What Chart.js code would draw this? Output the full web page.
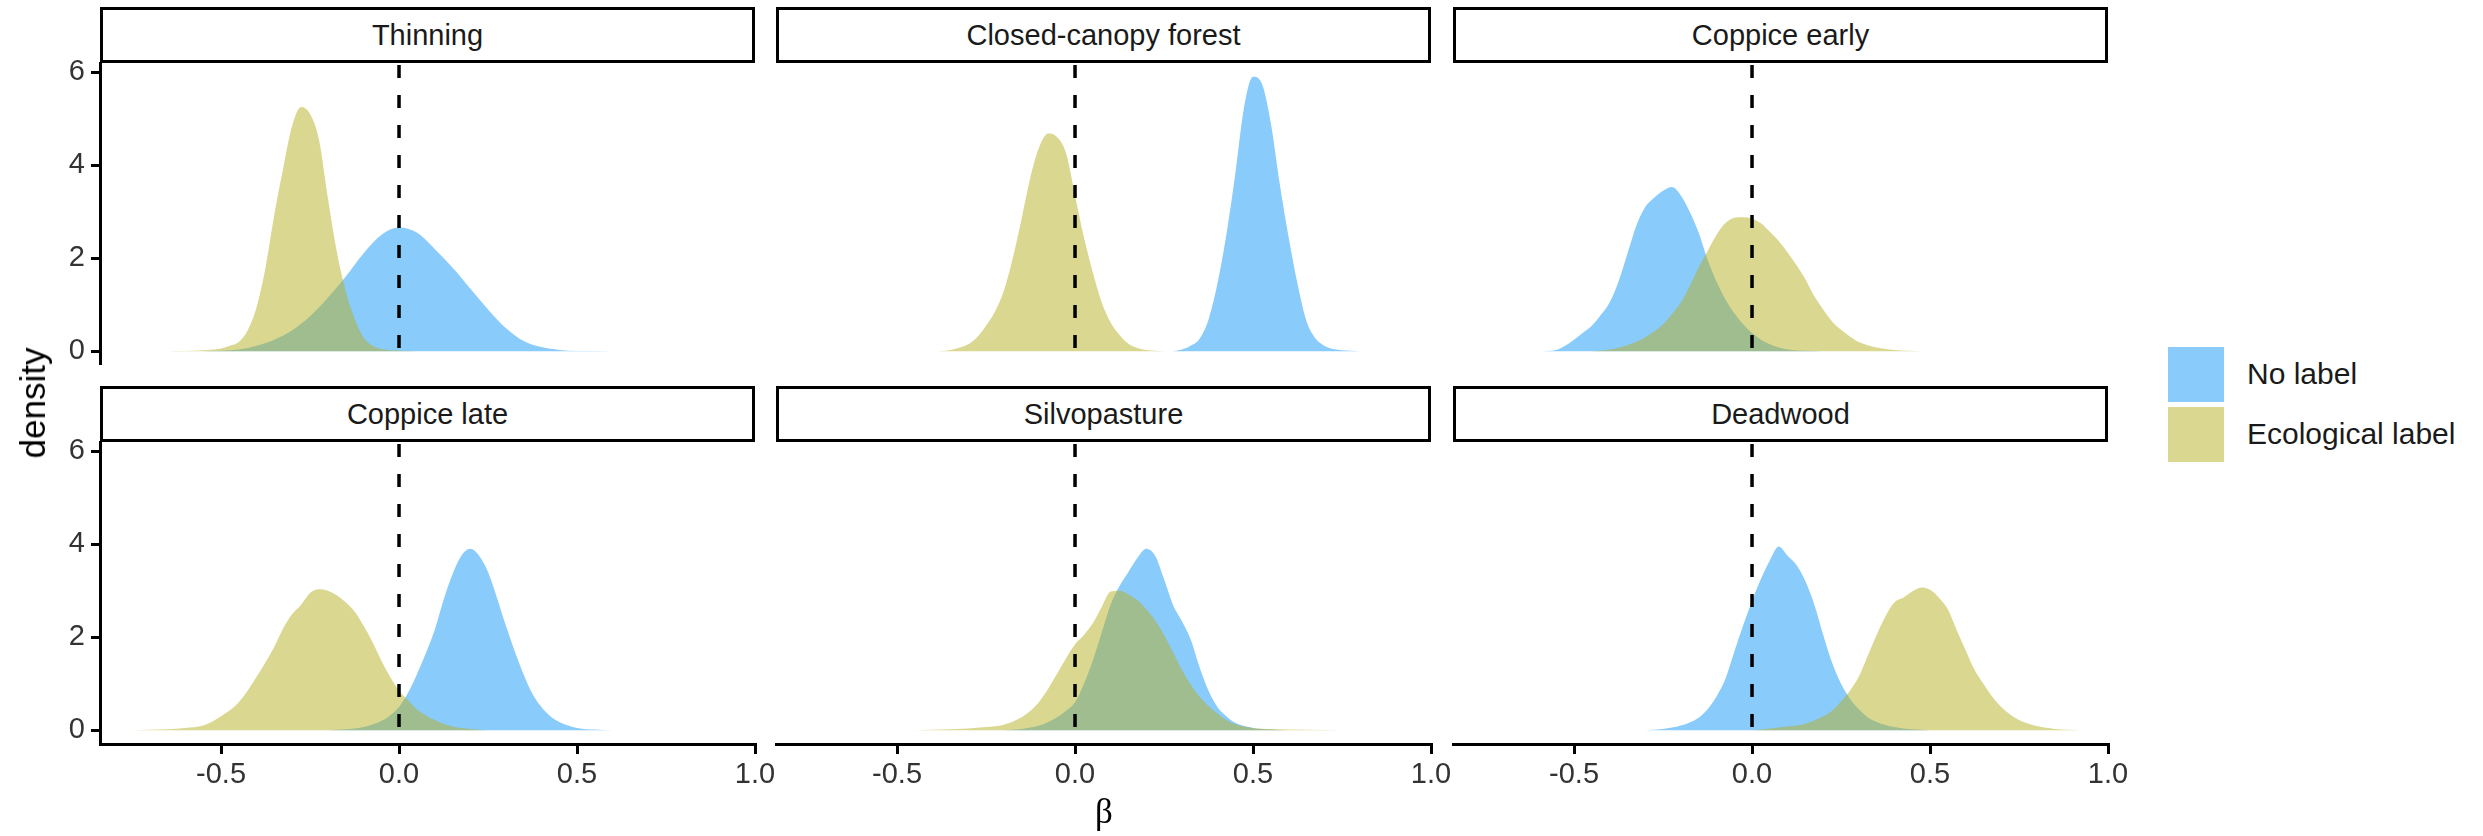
<!DOCTYPE html>
<html>
<head>
<meta charset="utf-8">
<script src="https://cdn.jsdelivr.net/npm/chart.js@4.4.1/dist/chart.umd.min.js"></script>
<style>
  html, body { margin: 0; padding: 0; background: #fff; }
  #fig { position: relative; width: 2483px; height: 836px; background: #fff;
         font-family: "Liberation Sans", Arial, Helvetica, sans-serif; overflow: hidden; }
  canvas { position: absolute; }
  .strip { position: absolute; box-sizing: border-box; border: 3px solid #000; background: #fff;
           display: flex; align-items: center; justify-content: center; font-size: 29px; color: #1a1a1a; }
  .title { position: absolute; font-size: 35px; color: #000; white-space: nowrap; }
  .key { position: absolute; width: 56px; height: 55px; }
  .keytext { position: absolute; font-size: 30px; color: #1a1a1a; white-space: nowrap; }
</style>
</head>
<body>
<div id="fig"></div>
<script>
// facet panels, in reading order
const panels = ['Thinning', 'Closed-canopy forest', 'Coppice early', 'Coppice late', 'Silvopasture', 'Deadwood'];

// "No label" posterior densities (beta, density) per panel
const noLabelBeta = [
  [-0.55, -0.45, -0.40, -0.35, -0.30, -0.25, -0.20, -0.15, -0.10, -0.05, 0.0, 0.05, 0.10, 0.15, 0.20, 0.25, 0.30, 0.35, 0.40, 0.45, 0.55, 0.65],
  [0.275, 0.30, 0.325, 0.35, 0.375, 0.40, 0.425, 0.45, 0.475, 0.50, 0.525, 0.55, 0.575, 0.60, 0.625, 0.65, 0.675, 0.70, 0.725, 0.75, 0.80],
  [-0.60, -0.55, -0.525, -0.50, -0.475, -0.45, -0.425, -0.40, -0.375, -0.35, -0.325, -0.30, -0.275, -0.25, -0.225, -0.20, -0.175, -0.15, -0.125, -0.10, -0.075, -0.05, -0.025, 0.0, 0.025, 0.05, 0.075, 0.10, 0.15, 0.20],
  [-0.20, -0.15, -0.10, -0.05, -0.025, 0.0, 0.025, 0.05, 0.075, 0.10, 0.125, 0.15, 0.175, 0.20, 0.225, 0.25, 0.275, 0.30, 0.325, 0.35, 0.375, 0.40, 0.425, 0.45, 0.50, 0.55, 0.60],
  [-0.20, -0.15, -0.10, -0.05, -0.025, 0.0, 0.025, 0.05, 0.075, 0.10, 0.125, 0.15, 0.175, 0.20, 0.225, 0.25, 0.275, 0.30, 0.325, 0.35, 0.375, 0.40, 0.425, 0.45, 0.50, 0.55, 0.60],
  [-0.30, -0.25, -0.20, -0.15, -0.125, -0.10, -0.075, -0.05, -0.025, 0.0, 0.025, 0.05, 0.075, 0.10, 0.125, 0.15, 0.175, 0.20, 0.225, 0.25, 0.275, 0.30, 0.325, 0.35, 0.40, 0.45, 0.50]
];
const noLabelDensity = [
  [0, 0.04, 0.12, 0.25, 0.45, 0.75, 1.15, 1.6, 2.1, 2.5, 2.66, 2.55, 2.2, 1.8, 1.35, 0.9, 0.5, 0.22, 0.09, 0.03, 0.005, 0],
  [0, 0.04, 0.12, 0.27, 0.68, 1.45, 2.5, 3.8, 5.25, 5.9, 5.75, 4.9, 3.6, 2.45, 1.45, 0.65, 0.28, 0.12, 0.05, 0.02, 0],
  [0, 0.03, 0.12, 0.25, 0.4, 0.55, 0.78, 1.05, 1.5, 2.1, 2.7, 3.1, 3.3, 3.45, 3.53, 3.35, 3.0, 2.55, 1.97, 1.5, 1.12, 0.82, 0.58, 0.39, 0.25, 0.15, 0.08, 0.04, 0.01, 0],
  [0, 0.02, 0.07, 0.2, 0.32, 0.5, 0.8, 1.2, 1.65, 2.15, 2.8, 3.35, 3.75, 3.9, 3.75, 3.4, 2.85, 2.25, 1.7, 1.2, 0.78, 0.5, 0.3, 0.18, 0.05, 0.015, 0],
  [0, 0.03, 0.1, 0.28, 0.42, 0.6, 1.0, 1.5, 2.1, 2.7, 3.1, 3.4, 3.7, 3.9, 3.75, 3.25, 2.7, 2.35, 1.95, 1.35, 0.85, 0.5, 0.3, 0.16, 0.05, 0.015, 0],
  [0, 0.03, 0.1, 0.27, 0.45, 0.72, 1.1, 1.68, 2.25, 2.78, 3.25, 3.65, 3.95, 3.75, 3.55, 3.2, 2.7, 2.05, 1.45, 1.0, 0.68, 0.45, 0.28, 0.18, 0.07, 0.02, 0]
];

// "Ecological label" posterior densities (beta, density) per panel
const ecoLabelBeta = [
  [-0.65, -0.55, -0.50, -0.475, -0.45, -0.425, -0.40, -0.375, -0.35, -0.325, -0.30, -0.275, -0.25, -0.225, -0.20, -0.175, -0.15, -0.125, -0.10, -0.075, -0.05, -0.025, 0.0, 0.05],
  [-0.40, -0.35, -0.30, -0.275, -0.25, -0.225, -0.20, -0.175, -0.15, -0.125, -0.10, -0.075, -0.05, -0.025, 0.0, 0.025, 0.05, 0.075, 0.10, 0.125, 0.15, 0.175, 0.20, 0.25],
  [-0.45, -0.40, -0.35, -0.30, -0.25, -0.225, -0.20, -0.175, -0.15, -0.125, -0.10, -0.075, -0.05, -0.025, 0.0, 0.025, 0.05, 0.075, 0.10, 0.125, 0.15, 0.175, 0.20, 0.225, 0.25, 0.275, 0.30, 0.35, 0.40, 0.475],
  [-0.75, -0.65, -0.60, -0.55, -0.50, -0.45, -0.40, -0.35, -0.325, -0.30, -0.275, -0.25, -0.225, -0.20, -0.175, -0.15, -0.125, -0.10, -0.075, -0.05, -0.025, 0.0, 0.025, 0.05, 0.075, 0.10, 0.15, 0.20, 0.25],
  [-0.45, -0.35, -0.25, -0.20, -0.15, -0.125, -0.10, -0.075, -0.05, -0.025, 0.0, 0.025, 0.05, 0.075, 0.10, 0.125, 0.15, 0.175, 0.20, 0.225, 0.25, 0.275, 0.30, 0.325, 0.35, 0.375, 0.40, 0.425, 0.45, 0.50, 0.55, 0.65, 0.75],
  [0.0, 0.05, 0.10, 0.15, 0.20, 0.225, 0.25, 0.275, 0.30, 0.325, 0.35, 0.375, 0.40, 0.425, 0.45, 0.475, 0.50, 0.525, 0.55, 0.575, 0.60, 0.625, 0.65, 0.675, 0.70, 0.725, 0.75, 0.80, 0.85, 0.925]
];
const ecoLabelDensity = [
  [0, 0.02, 0.06, 0.12, 0.2, 0.45, 0.95, 1.8, 2.95, 3.95, 4.85, 5.25, 5.1, 4.55, 3.3, 2.15, 1.3, 0.7, 0.3, 0.12, 0.05, 0.02, 0.01, 0],
  [0, 0.03, 0.15, 0.3, 0.55, 0.85, 1.3, 2.0, 2.85, 3.75, 4.4, 4.68, 4.6, 4.25, 3.35, 2.45, 1.7, 1.05, 0.62, 0.35, 0.16, 0.07, 0.03, 0],
  [0, 0.04, 0.13, 0.3, 0.58, 0.8, 1.05, 1.4, 1.8, 2.15, 2.5, 2.75, 2.87, 2.88, 2.85, 2.75, 2.57, 2.37, 2.12, 1.85, 1.55, 1.18, 0.9, 0.64, 0.46, 0.32, 0.2, 0.08, 0.03, 0],
  [0, 0.02, 0.05, 0.1, 0.3, 0.6, 1.15, 1.8, 2.2, 2.5, 2.7, 2.95, 3.03, 3.0, 2.9, 2.75, 2.55, 2.25, 1.9, 1.5, 1.15, 0.85, 0.65, 0.45, 0.32, 0.22, 0.08, 0.03, 0],
  [0, 0.02, 0.07, 0.12, 0.28, 0.42, 0.62, 0.9, 1.22, 1.55, 1.85, 2.05, 2.3, 2.65, 2.98, 3.0, 2.92, 2.8, 2.6, 2.36, 2.05, 1.68, 1.3, 0.98, 0.72, 0.52, 0.36, 0.22, 0.13, 0.05, 0.025, 0.01, 0],
  [0, 0.04, 0.08, 0.14, 0.3, 0.42, 0.62, 0.85, 1.15, 1.6, 2.05, 2.45, 2.75, 2.85, 2.98, 3.07, 3.02, 2.85, 2.6, 2.15, 1.72, 1.3, 1.0, 0.72, 0.5, 0.34, 0.22, 0.09, 0.03, 0]
];

const seriesNames = ['No label', 'Ecological label'];
const xTicks = [-0.5, 0.0, 0.5, 1.0];
const yTicks = [0, 2, 4, 6];

// colours (alpha 0.5 like the original fills)
const noLabelFill = 'rgba(19,151,245,0.5)';
const ecoLabelFill = 'rgba(181,175,35,0.5)';

const fig = document.getElementById('fig');

// geometry of the facet grid
const plotLefts = [100, 776, 1453];
const rowTops = [63, 442];
const plotW = 655;
const plotH = 302;
const padT = 20, padR = 40, axisW = 100, axisH = 62;

const refLine = {
  id: 'refLine',
  afterDatasetsDraw(chart) {
    const { ctx, chartArea, scales } = chart;
    const x0 = scales.x.getPixelForValue(0);
    ctx.save();
    ctx.strokeStyle = '#000';
    ctx.lineWidth = 3.5;
    ctx.setLineDash([13, 17]);
    ctx.beginPath();
    ctx.moveTo(x0, chartArea.top + 2);
    ctx.lineTo(x0, chartArea.bottom);
    ctx.stroke();
    ctx.restore();
  }
};

function toPoints(xs, ys) {
  return xs.map((x, i) => ({ x: x, y: ys[i] }));
}

panels.forEach((name, p) => {
  const col = p % 3, row = Math.floor(p / 3);
  const showY = col === 0, showX = row === 1;
  const padL = showY ? axisW : 40;
  const left = plotLefts[col] - padL;
  const top = rowTops[row] - padT;
  const w = padL + plotW + padR;
  const h = padT + plotH + (showX ? axisH : 0);

  const canvas = document.createElement('canvas');
  canvas.width = w; canvas.height = h;
  canvas.style.left = left + 'px'; canvas.style.top = top + 'px';
  canvas.style.width = w + 'px'; canvas.style.height = h + 'px';
  fig.appendChild(canvas);

  const strip = document.createElement('div');
  strip.className = 'strip';
  strip.style.left = plotLefts[col] + 'px';
  strip.style.top = (rowTops[row] - 56) + 'px';
  strip.style.width = plotW + 'px';
  strip.style.height = '56px';
  strip.textContent = name;
  fig.appendChild(strip);

  new Chart(canvas.getContext('2d'), {
    type: 'line',
    data: {
      datasets: [
        {
          label: seriesNames[1],
          data: toPoints(ecoLabelBeta[p], ecoLabelDensity[p]),
          backgroundColor: ecoLabelFill,
          borderWidth: 0,
          pointRadius: 0,
          fill: 'origin',
          cubicInterpolationMode: 'monotone',
          order: 0
        },
        {
          label: seriesNames[0],
          data: toPoints(noLabelBeta[p], noLabelDensity[p]),
          backgroundColor: noLabelFill,
          borderWidth: 0,
          pointRadius: 0,
          fill: 'origin',
          cubicInterpolationMode: 'monotone',
          order: 1
        }
      ]
    },
    options: {
      responsive: false,
      animation: false,
      devicePixelRatio: 1,
      layout: { padding: { left: showY ? 0 : padL, right: padR, top: padT, bottom: 0 } },
      plugins: { legend: { display: false }, tooltip: { enabled: false } },
      scales: {
        x: {
          type: 'linear',
          min: -0.84,
          max: 1.0,
          display: showX,
          afterBuildTicks: s => { s.ticks = xTicks.map(v => ({ value: v })); },
          afterFit: s => {
            s.height = showX ? axisH : 0;
            s.paddingLeft = 0; s.paddingRight = 0;
          },
          border: { display: true, color: '#000', width: 3 },
          grid: { drawOnChartArea: false, tickLength: 10, tickWidth: 3, tickColor: '#000', lineWidth: 3 },
          ticks: {
            color: '#333',
            padding: 4,
            maxRotation: 0,
            font: { size: 29, family: '"Liberation Sans", Arial, sans-serif' },
            callback: v => v.toFixed(1)
          }
        },
        y: {
          type: 'linear',
          min: -0.295,
          max: 6.195,
          display: showY,
          afterBuildTicks: s => { s.ticks = yTicks.map(v => ({ value: v })); },
          afterFit: s => {
            s.width = showY ? axisW : 0;
            s.paddingTop = 0; s.paddingBottom = 0;
          },
          border: { display: true, color: '#000', width: 3 },
          grid: { drawOnChartArea: false, tickLength: 9, tickWidth: 3, tickColor: '#000', lineWidth: 3 },
          ticks: {
            color: '#333',
            padding: 6,
            font: { size: 29, family: '"Liberation Sans", Arial, sans-serif' },
            callback: v => String(v)
          }
        }
      }
    },
    plugins: [refLine]
  });
});

// axis titles
const yTitle = document.createElement('div');
yTitle.className = 'title';
yTitle.textContent = 'density';
yTitle.style.left = '33px';
yTitle.style.top = '403px';
yTitle.style.transform = 'translate(-50%, -50%) rotate(-90deg)';
fig.appendChild(yTitle);

const xTitle = document.createElement('div');
xTitle.className = 'title';
xTitle.textContent = 'β';
xTitle.style.fontFamily = '"Liberation Serif", serif';
xTitle.style.left = '1104px';
xTitle.style.top = '812px';
xTitle.style.transform = 'translate(-50%, -50%)';
fig.appendChild(xTitle);

// legend
const keyFills = [noLabelFill, ecoLabelFill];
const keyTops = [347, 407];
seriesNames.forEach((s, i) => {
  const k = document.createElement('div');
  k.className = 'key';
  k.style.left = '2168px';
  k.style.top = keyTops[i] + 'px';
  k.style.background = keyFills[i];
  fig.appendChild(k);
  const t = document.createElement('div');
  t.className = 'keytext';
  t.textContent = s;
  t.style.left = '2247px';
  t.style.top = (keyTops[i] + 27) + 'px';
  t.style.transform = 'translateY(-50%)';
  fig.appendChild(t);
});
</script>
</body>
</html>
